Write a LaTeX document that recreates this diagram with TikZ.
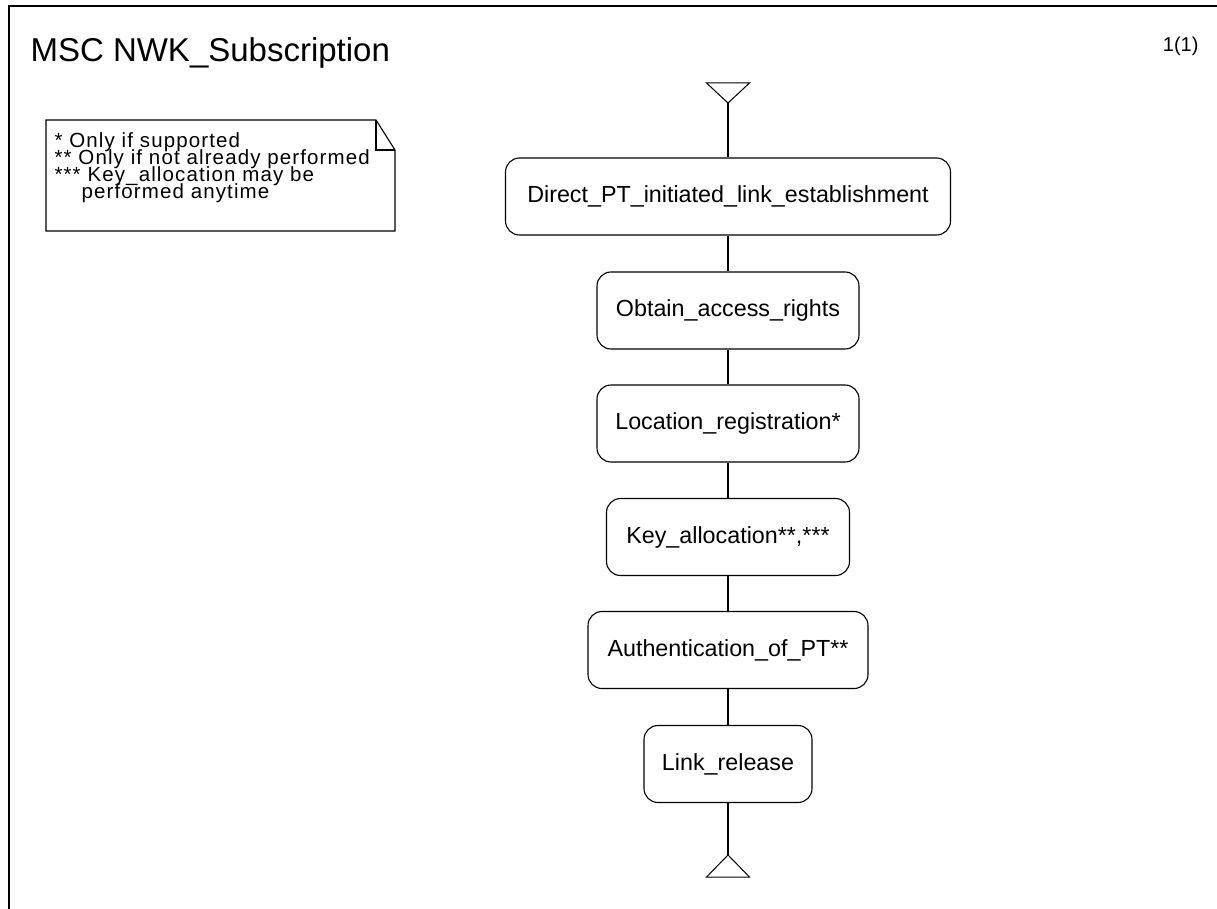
\documentclass[tikz,border=0pt]{standalone}
\usepackage{fontspec}
\setmainfont{Liberation Sans}
\newfontfamily\notefont[LetterSpace=5.5]{Liberation Sans}
\usetikzlibrary{positioning}

\begin{document}
\begin{tikzpicture}[x=1pt,y=-1pt,line width=1.1pt,
  proc/.style={draw,rounded corners=14pt,minimum height=77pt,inner sep=0pt,
    font=\fontsize{23.3}{27}\selectfont},
  term/.style={line width=1pt}]

\useasboundingbox (0,0) rectangle (1217,909);

% frame and heading
\draw (9,912) -- (9,6) -- (1220,6);
\node (title) [anchor=base west,inner sep=0pt,font=\fontsize{33}{38}\selectfont] at (30,62) {MSC NWK\_Subscription};
\node (page) [anchor=base east,inner sep=0pt,font=\fontsize{20}{24}\selectfont] at (1199,52) {1(1)};

% comment symbol
\draw (46,120) -- (376,120) -- (395,150) -- (395,231) -- (46,231) -- cycle;
\draw (376,120) -- (376,150) -- (395,150);
\node (note) [anchor=base west,inner sep=0pt,align=left,
  font=\notefont\fontsize{20.5}{17.3}\selectfont\setlength{\lineskiplimit}{-30pt}] at (54,199)
  {* Only if supported\\** Only if not already performed\\*** Key\_allocation may be\\\hspace*{27pt}performed anytime};

% references
\node (est)  [proc,minimum width=445pt] at (728,196.5) {Direct\_PT\_initiated\_link\_establishment};
\node (acc)  [proc,minimum width=262pt] at (728,310.5) {Obtain\_access\_rights};
\node (loc)  [proc,minimum width=262pt] at (728,423.5) {Location\_registration*};
\node (key)  [proc,minimum width=243pt] at (728,537) {Key\_allocation**,***};
\node (auth) [proc,minimum width=280pt] at (728,650) {Authentication\_of\_PT**};
\node (rel)  [proc,minimum width=168pt] at (728,764) {Link\_release};

% start and end
\coordinate (start) at (728,103);
\coordinate (stop) at (728,855);
\draw [term] (start) -- (706.5,83) -- (749.5,83) -- cycle;
\draw [term] (stop) -- (706.5,877) -- (749.5,877) -- cycle;

\draw (start) -- (est);
\draw (est) -- (acc);
\draw (acc) -- (loc);
\draw (loc) -- (key);
\draw (key) -- (auth);
\draw (auth) -- (rel);
\draw (rel) -- (stop);
\end{tikzpicture}
\end{document}
